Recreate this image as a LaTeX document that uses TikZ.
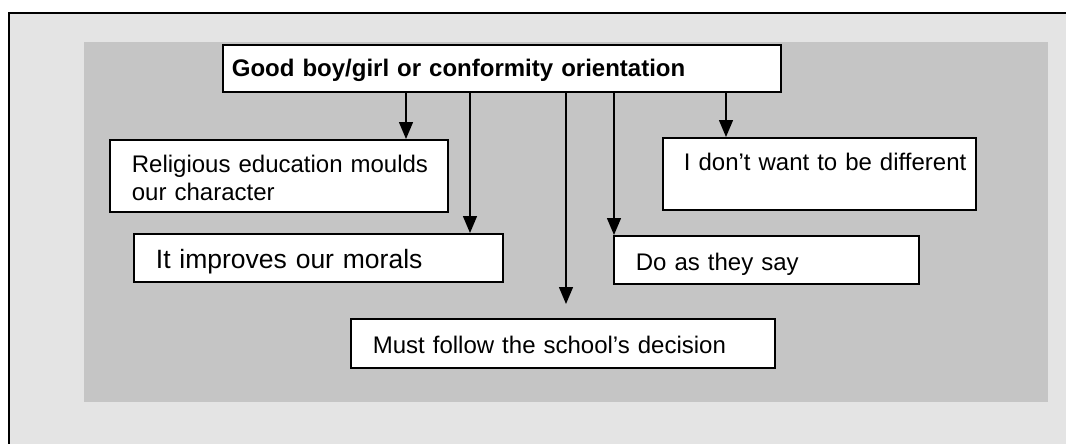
\documentclass[tikz,border=0pt]{standalone}
\usepackage{fontspec}
\setmainfont{Liberation Sans}
\usetikzlibrary{arrows.meta}
\definecolor{pagegrey}{HTML}{E4E4E4}
\definecolor{panelgrey}{HTML}{C5C5C5}
\newcommand{\lead}{\hspace*{22pt}}
\tikzset{
  box/.style={draw=black, line width=1.8pt, fill=white, anchor=north west,
    inner xsep=0pt, inner ysep=0pt, align=left,
    font=\fontsize{24}{28}\selectfont},
  arr/.style={draw=black, line width=1.4pt, -{Triangle[length=17pt,width=14pt]}}
}
\begin{document}
\begin{tikzpicture}[x=1pt,y=-1pt]
  \useasboundingbox (0,0) rectangle (1066,444);
  % page background and its frame (open to the right and bottom)
  \fill[pagegrey] (9,13) rectangle (1070,448);
  \draw[line width=1.7pt] (9,448) -- (9,13) -- (1070,13);
  % shaded panel
  \fill[panelgrey] (84,42) rectangle (1048,402);

  % heading
  \node[box, font=\fontsize{24}{28}\selectfont\bfseries, text width=558pt,
        text height=32pt, text depth=15pt] (top) at (222,44)
        {\hspace*{9pt}Good boy/girl or conformity orientation};

  % statements
  \node[box, text width=338pt, text height=33pt, text depth=39pt] (rel) at (109,139)
        {\lead Religious education moulds\\\lead our character};
  \node[box, font=\fontsize{26.5}{30}\selectfont, text width=369pt,
        text height=35pt, text depth=13pt] (imp) at (133,233)
        {\lead It improves our morals};
  \node[box, text width=424pt, text height=35pt, text depth=14pt] (must) at (350,318)
        {\lead Must follow the school’s decision};
  \node[box, text width=305pt, text height=35pt, text depth=13pt] (do) at (613,235)
        {\lead Do as they say};
  \node[box, text width=313pt, text height=33pt, text depth=39pt] (dont) at (662,137)
        {\hspace*{21pt}I don’t want to be different};

  \coordinate (mustend) at (566,304);

  % connectors
  \draw[arr] ([xshift=184pt]top.south west) -- ([xshift=297pt]rel.north west);
  \draw[arr] ([xshift=248pt]top.south west) -- ([xshift=337pt]imp.north west);
  \draw[arr] ([xshift=344pt]top.south west) -- (mustend);
  \draw[arr] ([xshift=392pt]top.south west) -- ([xshift=1pt]do.north west);
  \draw[arr] ([xshift=504pt]top.south west) -- ([xshift=64pt]dont.north west);
\end{tikzpicture}
\end{document}
